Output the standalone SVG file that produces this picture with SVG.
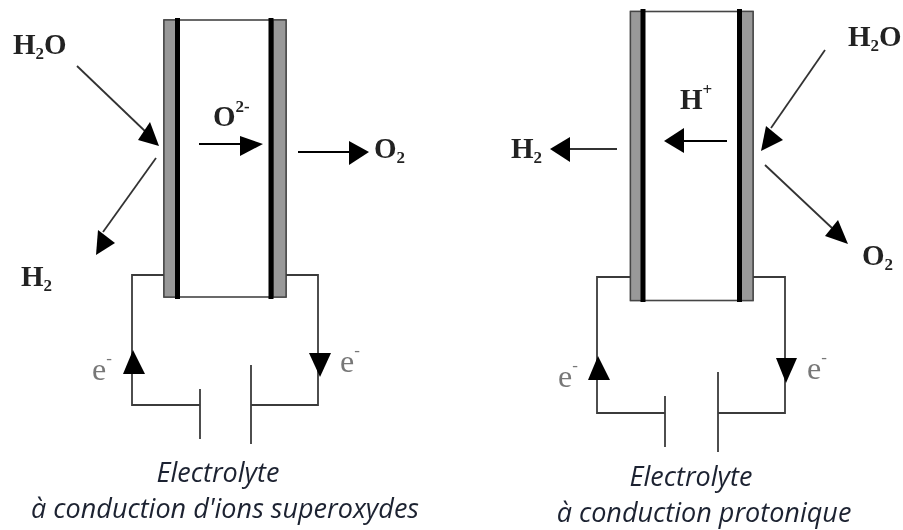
<svg xmlns="http://www.w3.org/2000/svg" width="903" height="530" viewBox="0 0 903 530">
<defs><filter id="soft" x="-5%" y="-5%" width="110%" height="110%"><feGaussianBlur stdDeviation="0.5"/></filter></defs>
<style>
.f{font-family:"Liberation Serif",serif;font-weight:bold;fill:#222;font-size:29px}
.s{font-size:17px}
.e{font-family:"Liberation Serif",serif;fill:#777;font-size:32px}
.c{font-family:"Open Sans",sans-serif;font-style:italic;fill:#1c2230;font-size:27px;text-anchor:middle}
.w{fill:none;stroke:#3a3a3a;stroke-width:1.8}
.g{fill:#999;stroke:#444;stroke-width:1.3}
.b{stroke:#000;stroke-width:5}
.l{stroke:#333;stroke-width:1.8;fill:none}
.k{stroke:#000;stroke-width:1.8;fill:none}
.h{fill:#000}
#cell-left,#cell-right,#connectors,#labels{filter:url(#soft)}
</style>
<rect width="903" height="530" fill="#fff"/>
<g id="cell-left">
<rect x="164" y="20" width="122" height="277" fill="#fff" stroke="#444" stroke-width="1.6"/>
<rect class="g" x="164" y="20" width="13" height="277"/>
<rect class="g" x="273" y="20" width="13" height="277"/>
<path class="b" d="M177.500 18V299M271 18V299"/>
</g>
<g id="cell-right">
<rect x="630.500" y="11.500" width="122.500" height="289" fill="#fff" stroke="#444" stroke-width="1.600"/>
<rect class="g" x="630.500" y="11.500" width="12" height="289"/>
<rect class="g" x="741" y="11.500" width="12" height="289"/>
<path class="b" d="M643 9V302M739.500 9V302"/>
</g>
<g id="connectors">
<path class="l" d="M77 66L148 134"/><polygon class="h" points="159,146 138,140 150,122"/>
<path class="l" d="M156 158L103 232"/><polygon class="h" points="96,255 98,230 115,243"/>
<path class="k" d="M199 144H245"/><polygon class="h" points="263,144 240,136 240,156"/>
<path class="k" d="M298 152H352"/><polygon class="h" points="369,152 349,141 349,165"/>
<path class="w" d="M164 275H132V405H200M200 389V439M251 365V444M251 405H318V275H286"/>
<polygon class="h" points="133,350 123,374 145,374"/>
<polygon class="h" points="320,377 309,353 331,353"/>
<path class="l" d="M825 50L771 128"/><polygon class="h" points="761,151 766,126 783,140"/>
<path class="l" d="M765 165L832 228"/><polygon class="h" points="848,244 825,236 838,220"/>
<path class="k" d="M727 141H680"/><polygon class="h" points="664,141 684,128 684,153"/>
<path class="l" d="M617 149H567"/><polygon class="h" points="550,149 570,137 570,162"/>
<path class="w" d="M630 277H597V413H665M665 396V447M718 372V452M718 413H785V277H753"/>
<polygon class="h" points="598,356 588,380 610,380"/>
<polygon class="h" points="786,383 776,358 797,358"/>
</g>
<g id="labels">
<text class="f" x="13" y="54">H<tspan class="s" dy="5">2</tspan><tspan dy="-5">O</tspan></text>
<text class="f" x="21" y="286">H<tspan class="s" dy="5">2</tspan></text>
<text class="f" x="213" y="126">O<tspan class="s" dy="-14">2-</tspan></text>
<text class="f" x="374" y="158">O<tspan class="s" dy="5">2</tspan></text>
<text class="e" x="92" y="380">e<tspan class="s" dy="-16">-</tspan></text>
<text class="e" x="340" y="372">e<tspan class="s" dy="-16">-</tspan></text>
<text class="f" x="848" y="46">H<tspan class="s" dy="5">2</tspan><tspan dy="-5">O</tspan></text>
<text class="f" x="680" y="109">H<tspan class="s" dy="-14">+</tspan></text>
<text class="f" x="511" y="158">H<tspan class="s" dy="5">2</tspan></text>
<text class="f" x="862" y="265">O<tspan class="s" dy="5">2</tspan></text>
<text class="e" x="558" y="387">e<tspan class="s" dy="-16">-</tspan></text>
<text class="e" x="807" y="379">e<tspan class="s" dy="-16">-</tspan></text>
<text class="c" x="218" y="482">Electrolyte</text>
<text class="c" x="225" y="518">à conduction d'ions superoxydes</text>
<text class="c" x="691" y="486">Electrolyte</text>
<text class="c" x="704" y="522">à conduction protonique</text>
</g>
</svg>
